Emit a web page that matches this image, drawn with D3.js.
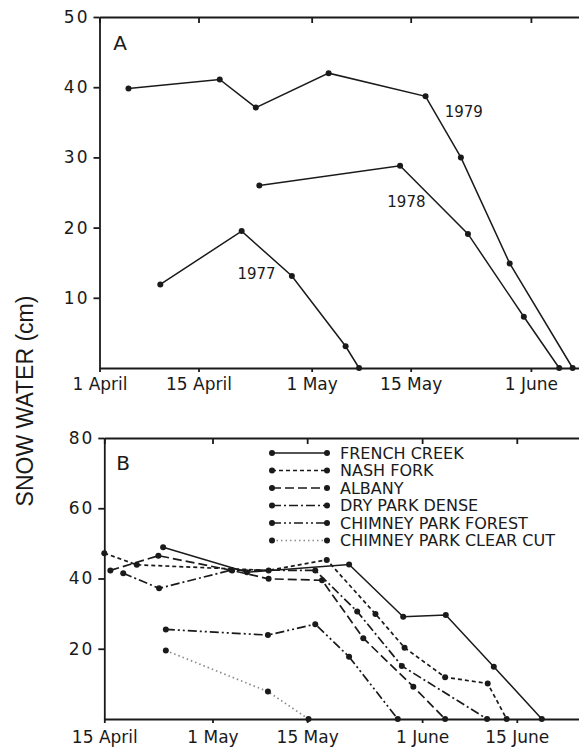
<!DOCTYPE html>
<html lang="en">
<head>
<meta charset="UTF-8">
<title>Snow water</title>
<script src="https://cdn.jsdelivr.net/npm/d3@7/dist/d3.min.js"></script>
<style>
    body { margin: 0; background: #fff; }
    svg text { font-family: 'DejaVu Sans', sans-serif; fill: #1a1a1a; }
    .axis path, .axis line { stroke: #1a1a1a; stroke-width: 1.8; }
    .axis text { font-size: 17px; }
</style>
</head>
<body>
<svg id="chart" width="579" height="748"></svg>
<script>
// ---- panel A: days after 1 April ----
var aTickDays = [0, 14, 30, 44, 61];
var aTickLabels = ["1 April", "15 April", "1 May", "15 May", "1 June"];
var aYTicks = [10, 20, 30, 40, 50];

var years = ["1979", "1978", "1977"];
var days1979 = [4.1, 17.0, 22.1, 32.4, 46.1, 51.1, 58.0, 66.9];
var swe1979  = [39.8, 41.1, 37.1, 42.0, 38.7, 30.0, 14.9, 0];
var days1978 = [22.6, 42.5, 52.1, 60.0, 65.0];
var swe1978  = [26.0, 28.8, 19.1, 7.3, 0];
var days1977 = [8.6, 20.1, 27.2, 34.8, 36.7];
var swe1977  = [11.9, 19.5, 13.1, 3.1, 0];

// ---- panel B: days after 15 April ----
var bTickDays = [0, 16, 30, 47, 61];
var bTickLabels = ["15 April", "1 May", "15 May", "1 June", "15 June"];
var bYTicks = [20, 40, 60, 80];

var siteNames = ["FRENCH CREEK", "NASH FORK", "ALBANY", "DRY PARK DENSE",
                 "CHIMNEY PARK FOREST", "CHIMNEY PARK CLEAR CUT"];
var frenchDays  = [8.7, 21.1, 36.2, 44.2, 50.5, 57.6, 64.7];
var frenchSwe   = [48.9, 41.8, 44.0, 29.1, 29.6, 14.9, 0];
var nashDays    = [0, 4.8, 24.3, 32.9, 40.1, 44.4, 50.4, 56.7, 59.5];
var nashSwe     = [47.2, 43.9, 42.3, 45.3, 29.9, 20.3, 11.9, 10.1, 0];
var albanyDays  = [0.9, 8.0, 18.9, 24.3, 32.2, 38.3, 45.7, 50.4];
var albanySwe   = [42.3, 46.5, 42.3, 39.9, 39.5, 23.0, 9.2, 0];
var dryDays     = [2.8, 8.1, 18.8, 31.2, 37.4, 44.0, 56.6];
var drySwe      = [41.5, 37.2, 42.4, 42.3, 30.6, 15.1, 0];
var forestDays  = [9.1, 24.2, 31.2, 36.2, 43.4];
var forestSwe   = [25.5, 23.9, 27.0, 17.7, 0];
var clearDays   = [9.1, 24.2, 30.2];
var clearSwe    = [19.5, 7.8, 0];

var ink = "#1a1a1a";
var svg = d3.select("#chart");

function zip(xs, ys) {
    return xs.map(function (d, i) { return { d: d, v: ys[i] }; });
}

function drawSeries(g, x, y, pts, dash, color) {
    var line = d3.line()
        .x(function (p) { return x(p.d); })
        .y(function (p) { return y(p.v); });
    g.append("path")
        .datum(pts)
        .attr("d", line)
        .attr("fill", "none")
        .attr("stroke", color)
        .attr("stroke-width", dash ? 1.7 : 1.5)
        .attr("stroke-dasharray", dash);
    g.selectAll(null)
        .data(pts)
        .enter()
        .append("circle")
        .attr("cx", function (p) { return x(p.d); })
        .attr("cy", function (p) { return y(p.v); })
        .attr("r", 3)
        .attr("fill", ink);
}

function drawFrame(g, x, y, xTicks, xLabels, yTicks, labelPad) {
    g.append("g").attr("class", "axis")
        .attr("transform", "translate(" + x.range()[0] + ",0)")
        .call(d3.axisLeft(y).tickValues(yTicks).tickSize(6).tickPadding(4).tickSizeOuter(0))
        .selectAll("text").attr("letter-spacing", 2);

    g.append("g").attr("class", "axis")
        .attr("transform", "translate(0," + y.range()[0] + ")")
        .call(d3.axisBottom(x).tickValues(xTicks)
            .tickFormat(function (d, i) { return xLabels[i]; })
            .tickSize(4).tickPadding(labelPad).tickSizeOuter(0));

    g.append("g").attr("class", "axis")
        .attr("transform", "translate(0," + y.range()[1] + ")")
        .call(d3.axisTop(x).tickValues(xTicks).tickFormat("").tickSize(-6).tickSizeOuter(0));
}

// ---- panel A ----
var xA = d3.scaleLinear().domain([0, 67.8]).range([99.5, 579]);
var yA = d3.scaleLinear().domain([0, 50]).range([368, 17]);
var gA = svg.append("g");
drawFrame(gA, xA, yA, aTickDays, aTickLabels, aYTicks, 6);

drawSeries(gA, xA, yA, zip(days1979, swe1979), null, ink);
drawSeries(gA, xA, yA, zip(days1978, swe1978), null, ink);
drawSeries(gA, xA, yA, zip(days1977, swe1977), null, ink);

gA.append("text").attr("x", 120).attr("y", 43).attr("text-anchor", "middle")
    .attr("dominant-baseline", "central").style("font-size", "20px").text("A");

// year labels, placed in data units next to each curve
var yearPos = [[51.5, 36.4], [43.4, 23.7], [22.2, 13.4]];
years.forEach(function (yr, i) {
    gA.append("text")
        .attr("x", xA(yearPos[i][0]))
        .attr("y", yA(yearPos[i][1]))
        .attr("text-anchor", "middle")
        .attr("dominant-baseline", "central")
        .style("font-size", "15px")
        .text(yr);
});

// ---- panel B ----
var xB = d3.scaleLinear().domain([0, 70.2]).range([104.3, 579]);
var yB = d3.scaleLinear().domain([0, 80]).range([719, 438]);
var gB = svg.append("g");
drawFrame(gB, xB, yB, bTickDays, bTickLabels, bYTicks, 8);

var dashes = [null, "4,3", "9,4", "9,3,2,3", "9,3,2,3,2,3", "1.5,3"];
var colors = [ink, ink, ink, ink, ink, "#8a8a8a"];
var siteData = [
    zip(frenchDays, frenchSwe),
    zip(nashDays, nashSwe),
    zip(albanyDays, albanySwe),
    zip(dryDays, drySwe),
    zip(forestDays, forestSwe),
    zip(clearDays, clearSwe)
];
siteData.forEach(function (pts, i) {
    drawSeries(gB, xB, yB, pts, dashes[i], colors[i]);
});

gB.append("text").attr("x", 123).attr("y", 463).attr("text-anchor", "middle")
    .attr("dominant-baseline", "central").style("font-size", "20px").text("B");

// legend
var legend = gB.append("g");
siteNames.forEach(function (name, i) {
    var ly = 453 + i * 17.5;
    legend.append("line")
        .attr("x1", 272).attr("x2", 327).attr("y1", ly).attr("y2", ly)
        .attr("stroke", colors[i]).attr("stroke-width", 1.7)
        .attr("stroke-dasharray", dashes[i]);
    [272, 327].forEach(function (lx) {
        legend.append("circle").attr("cx", lx).attr("cy", ly).attr("r", 3).attr("fill", ink);
    });
    legend.append("text")
        .attr("x", 340).attr("y", ly)
        .attr("dominant-baseline", "central")
        .style("font-size", "16px")
        .text(name);
});

// shared y title
svg.append("text")
    .attr("transform", "translate(33,401) rotate(-90)")
    .attr("text-anchor", "middle")
    .style("font-family", "'Liberation Sans', Arial, sans-serif")
    .style("font-size", "23px")
    .text("SNOW WATER (cm)");
</script>
</body>
</html>
